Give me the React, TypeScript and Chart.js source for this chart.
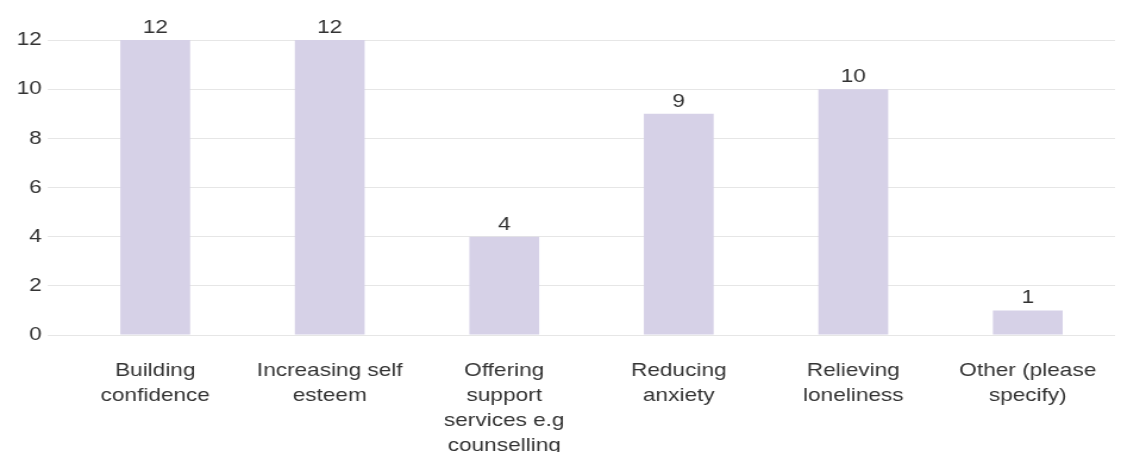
import React, { useEffect, useRef } from "react";
import { Chart, registerables } from "chart.js";

Chart.register(...registerables);

const categories: string[][] = [
  ["Building", "confidence"],
  ["Increasing self", "esteem"],
  ["Offering", "support", "services e.g", "counselling"],
  ["Reducing", "anxiety"],
  ["Relieving", "loneliness"],
  ["Other (please", "specify)"],
];
const responses: number[] = [12, 12, 4, 9, 10, 1];
const yTicks: number[] = [0, 2, 4, 6, 8, 10, 12];

const FONT = "'Liberation Sans', Arial, sans-serif";
const STRETCH = 1.19;
const W = Math.round(1126 / STRETCH);
const H = 452;

const valueLabels = {
  id: "valueLabels",
  afterDatasetsDraw(chart: any) {
    const ctx = chart.ctx;
    const meta = chart.getDatasetMeta(0);
    ctx.save();
    ctx.font = `19px ${FONT}`;
    ctx.fillStyle = "#333333";
    ctx.textAlign = "center";
    ctx.textBaseline = "alphabetic";
    meta.data.forEach((bar: any, i: number) => {
      ctx.fillText(String(responses[i]), bar.x, bar.y - 7);
    });
    ctx.restore();
  },
};

export default function App() {
  const ref = useRef<HTMLCanvasElement>(null);
  useEffect(() => {
    if (!ref.current) return;
    const chart = new Chart(ref.current, {
      type: "bar",
      data: {
        labels: categories,
        datasets: [
          {
            data: responses,
            backgroundColor: "#d6d1e7",
            barPercentage: 0.4,
            categoryPercentage: 1,
          },
        ],
      },
      options: {
        animation: false,
        responsive: false,
        maintainAspectRatio: false,
        devicePixelRatio: 1,
        layout: { padding: { left: 9, right: 9, top: 40, bottom: 0 } },
        plugins: { legend: { display: false }, tooltip: { enabled: false } },
        scales: {
          x: {
            grid: { display: false },
            border: { display: false },
            ticks: {
              color: "#333333",
              font: { family: FONT, size: 19, lineHeight: 1.32 },
              padding: 15,
              maxRotation: 0,
              autoSkip: false,
            },
            afterFit(scale: any) {
              scale.height = 117;
            },
          },
          y: {
            min: 0,
            max: 12,
            afterBuildTicks(scale: any) {
              scale.ticks = yTicks.map((v) => ({ value: v }));
            },
            grid: { color: "#e6e6e6", tickLength: 17, lineWidth: 1 },
            border: { display: false },
            ticks: {
              color: "#333333",
              font: { family: FONT, size: 19 },
              padding: 5,
            },
          },
        },
      },
      plugins: [valueLabels],
    });
    return () => chart.destroy();
  }, []);
  return (
    <div style={{ position: "absolute", left: 0, top: 0, width: 1126, height: H, overflow: "hidden", background: "#fff" }}>
      <div style={{ width: W, height: H, transform: `scaleX(${STRETCH})`, transformOrigin: "0 0" }}>
        <canvas ref={ref} width={W} height={H} style={{ display: "block", width: W, height: H }} />
      </div>
    </div>
  );
}
